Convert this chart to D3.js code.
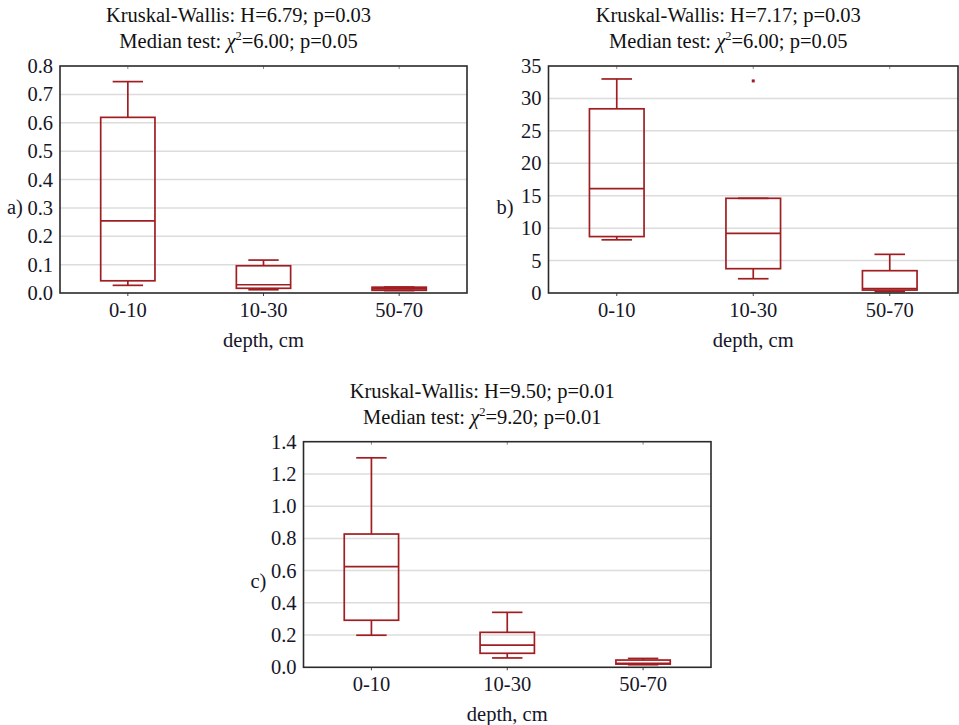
<!DOCTYPE html>
<html><head><meta charset="utf-8">
<script src="https://cdn.jsdelivr.net/npm/d3@7"></script>
<style>
html,body{margin:0;padding:0;background:#fff;}
svg{display:block;}
</style></head>
<body>
<script>
// ---------- data ----------
const categories = ["0-10", "10-30", "50-70"];

const aTicks = [0, 0.1, 0.2, 0.3, 0.4, 0.5, 0.6, 0.7, 0.8];
const aMin = [0.027, 0.0115, 0.0085];
const aQ1  = [0.043, 0.0166, 0.0095];
const aMed = [0.254, 0.029, 0.0145];
const aQ3  = [0.619, 0.096, 0.0205];
const aMax = [0.745, 0.116, 0.021];
const aOut = [];
const aTitle = ["Kruskal-Wallis: H=6.79; p=0.03", "6.00", "0.05"];

const bTicks = [0, 5, 10, 15, 20, 25, 30, 35];
const bMin = [8.2, 2.2, 0.22];
const bQ1  = [8.7, 3.75, 0.45];
const bMed = [16.1, 9.2, 0.66];
const bQ3  = [28.4, 14.6, 3.44];
const bMax = [33.0, 14.6, 5.96];
const bOut = [{cat: "10-30", value: 32.7}];
const bTitle = ["Kruskal-Wallis: H=7.17; p=0.03", "6.00", "0.05"];

const cTicks = [0, 0.2, 0.4, 0.6, 0.8, 1.0, 1.2, 1.4];
const cMin = [0.199, 0.058, 0.016];
const cQ1  = [0.292, 0.087, 0.02];
const cMed = [0.625, 0.138, 0.024];
const cQ3  = [0.827, 0.217, 0.045];
const cMax = [1.30, 0.341, 0.055];
const cOut = [];
const cTitle = ["Kruskal-Wallis: H=9.50; p=0.01", "9.20", "0.01"];

const xLabel = "depth, cm";

// ---------- drawing ----------
const W = 959, H = 725;
const FONT = '"Liberation Serif", "Times New Roman", serif';
const FS = 20.5;
const svg = d3.select("body").append("svg").attr("width", W).attr("height", H)
  .attr("font-family", FONT);

const boxColor = "#a01e22";
const textColor = "#161628";

function drawPanel(cfg) {
  const g = svg.append("g").attr("transform", `translate(${cfg.left},${cfg.top})`);
  const w = cfg.w, h = cfg.h;
  const y = d3.scaleLinear().domain([cfg.ticks[0], cfg.ticks[cfg.ticks.length - 1]]).range([h, 0]);
  const x = d3.scaleBand().domain(categories).range([0, w]).paddingInner(0).paddingOuter(0);
  const cx = c => x(c) + x.bandwidth() / 2;
  const boxW = x.bandwidth() * 0.4;
  const capW = boxW * 0.56;

  // gridlines
  g.append("g").selectAll("line").data(cfg.ticks.slice(1, -1)).join("line")
    .attr("x1", 0).attr("x2", w).attr("y1", d => y(d)).attr("y2", d => y(d))
    .attr("stroke", "#dcdcdc").attr("stroke-width", 1.5);

  // y axis labels
  const yAxis = d3.axisLeft(y).tickValues(cfg.ticks).tickFormat(cfg.fmt).tickSize(0).tickPadding(7);
  const ya = g.append("g").call(yAxis);
  ya.attr("font-family", FONT).attr("font-size", FS);
  ya.select(".domain").remove();
  ya.selectAll("text").attr("fill", textColor);

  // x axis labels
  const xAxis = d3.axisBottom(x).tickSize(0).tickPadding(9);
  const xa = g.append("g").attr("transform", `translate(0,${h})`).call(xAxis);
  xa.attr("font-family", FONT).attr("font-size", FS);
  xa.select(".domain").remove();
  xa.selectAll("text").attr("fill", textColor);

  // tiny tick marks
  g.append("g").selectAll("line").data(categories).join("line")
    .attr("x1", d => cx(d)).attr("x2", d => cx(d)).attr("y1", h).attr("y2", h + 3)
    .attr("stroke", "#444").attr("stroke-width", 1);
  g.append("g").selectAll("line").data(categories).join("line")
    .attr("x1", d => cx(d)).attr("x2", d => cx(d)).attr("y1", 0).attr("y2", 3)
    .attr("stroke", "#888").attr("stroke-width", 1);

  const data = categories.map((c, i) => ({
    c, min: cfg.min[i], q1: cfg.q1[i], med: cfg.med[i], q3: cfg.q3[i], max: cfg.max[i]
  }));
  const bx = g.append("g").attr("fill", "none").attr("stroke", boxColor).attr("stroke-width", 1.7);
  const grp = bx.selectAll("g").data(data).join("g");
  // whiskers
  grp.append("line").attr("x1", d => cx(d.c)).attr("x2", d => cx(d.c))
    .attr("y1", d => y(d.q3)).attr("y2", d => y(d.max));
  grp.append("line").attr("x1", d => cx(d.c)).attr("x2", d => cx(d.c))
    .attr("y1", d => y(d.q1)).attr("y2", d => y(d.min));
  // caps
  grp.append("line").attr("x1", d => cx(d.c) - capW / 2).attr("x2", d => cx(d.c) + capW / 2)
    .attr("y1", d => y(d.max)).attr("y2", d => y(d.max));
  grp.append("line").attr("x1", d => cx(d.c) - capW / 2).attr("x2", d => cx(d.c) + capW / 2)
    .attr("y1", d => y(d.min)).attr("y2", d => y(d.min));
  // box
  grp.append("rect").attr("x", d => cx(d.c) - boxW / 2).attr("width", boxW)
    .attr("y", d => y(d.q3)).attr("height", d => y(d.q1) - y(d.q3)).attr("fill", "none");
  // median
  grp.append("line").attr("x1", d => cx(d.c) - boxW / 2).attr("x2", d => cx(d.c) + boxW / 2)
    .attr("y1", d => y(d.med)).attr("y2", d => y(d.med));

  // outliers
  g.append("g").selectAll("rect").data(cfg.out).join("rect")
    .attr("x", d => cx(d.cat) - 1.5).attr("y", d => y(d.value) - 1.5)
    .attr("width", 3).attr("height", 3).attr("fill", boxColor);

  // frame
  g.append("rect").attr("x", 0).attr("y", 0).attr("width", w).attr("height", h)
    .attr("fill", "none").attr("stroke", "#2a2a2a").attr("stroke-width", 1.6);

  // titles
  const tx = w / 2 - 25;
  g.append("text").attr("x", tx).attr("y", -44).attr("text-anchor", "middle")
    .attr("font-size", FS).attr("fill", "#111").text(cfg.title[0]);
  const t2 = g.append("text").attr("x", tx).attr("y", -18).attr("text-anchor", "middle")
    .attr("font-size", FS).attr("fill", "#111");
  t2.append("tspan").text("Median test: ");
  t2.append("tspan").attr("font-style", "italic").text("\u03C7");
  t2.append("tspan").attr("font-size", 12.5).attr("dy", -8).text("2");
  t2.append("tspan").attr("dy", 8).text("=" + cfg.title[1] + "; p=" + cfg.title[2]);

  // x label
  g.append("text").attr("x", w / 2).attr("y", h + 54).attr("text-anchor", "middle")
    .attr("font-size", FS).attr("fill", textColor).text(xLabel);

  // panel letter
  g.append("text").attr("x", cfg.letterX).attr("y", h / 2 + 34).attr("text-anchor", "start")
    .attr("font-size", FS).attr("fill", textColor).text(cfg.letter);
}

const fmt1 = d3.format(".1f");
const fmt0 = d3.format("d");

drawPanel({left: 60, top: 66, w: 407, h: 227, ticks: aTicks, fmt: fmt1,
  min: aMin, q1: aQ1, med: aMed, q3: aQ3, max: aMax, out: aOut, title: aTitle,
  letter: "a)", letterX: -53});
drawPanel({left: 548.5, top: 66, w: 409.5, h: 227, ticks: bTicks, fmt: fmt0,
  min: bMin, q1: bQ1, med: bMed, q3: bQ3, max: bMax, out: bOut, title: bTitle,
  letter: "b)", letterX: -52});
drawPanel({left: 303.5, top: 441.7, w: 407.5, h: 225.6, ticks: cTicks, fmt: fmt1,
  min: cMin, q1: cQ1, med: cMed, q3: cQ3, max: cMax, out: cOut, title: cTitle,
  letter: "c)", letterX: -53});
</script>
</body></html>
